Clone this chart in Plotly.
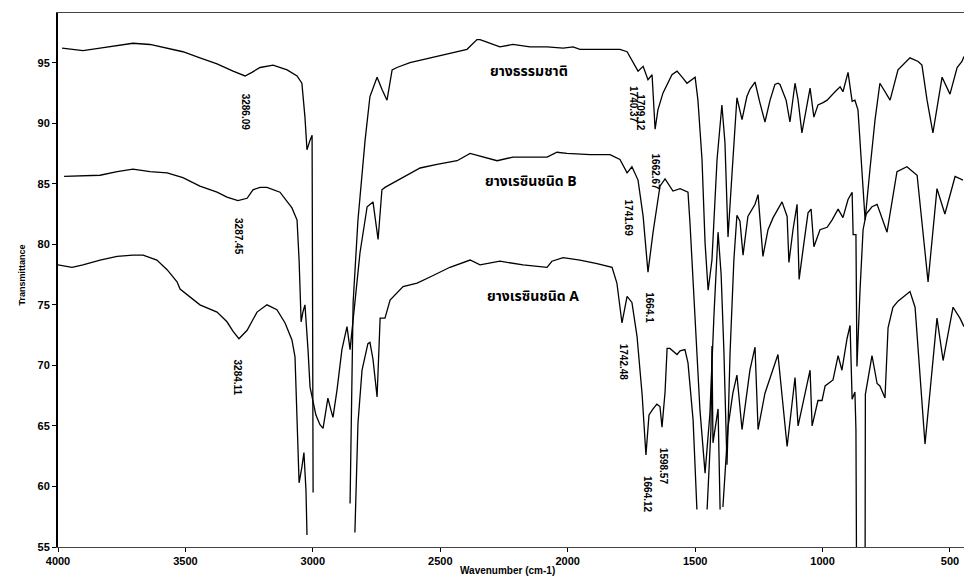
import plotly.graph_objects as go

N = None
# ---- Natural rubber (top) ----
nr_wn = [3984, 3902, 3835, 3768, 3706, 3639, 3572, 3510, 3443, 3376, 3313, 3266, 3239, 3207, 3156, 3101,
         3062, 3043, 3031, 3023, 3011, 3003, 2999, N, 2854, 2846, 2842, 2823, 2795, 2776, 2748, 2729,
         2709, 2689, 2670, 2619, 2579, 2513, 2395, 2356, 2344, 2317, 2266, 2215, 2148, 2081, 2018, 1979,
         1952, 1846, 1795, 1767, 1744, 1724, 1704, 1685, 1669, 1657, 1646, 1626, 1591, 1571, 1551, 1532,
         1500, 1489, 1473, 1461, 1449, 1434, 1414, 1395, 1383, 1371, 1356, 1336, 1316, 1297, 1285, 1265,
         1246, 1226, 1206, 1187, 1175, 1167, 1143, 1128, 1108, 1096, 1081, 1061, 1049, 1034, 1018, 998,
         982, 951, 931, 920, 900, 884, 873, 861, 845, 833, 814, 794, 775, 755, 735, 704, 657, 625, 610,
         590, 567, 531, 500, 472, 453, 445]
nr_t = [96.2, 96.0, 96.2, 96.4, 96.6, 96.5, 96.2, 95.9, 95.4, 94.9, 94.3, 93.9, 94.2, 94.6, 94.8, 94.4,
        93.9, 93.3, 90.5, 87.8, 88.6, 89.0, 59.5, N, 58.6, 68.8, 75.2, 82.0, 88.6, 92.2, 93.8, 92.8,
        91.9, 94.4, 94.6, 95.0, 95.2, 95.5, 96.1, 96.9, 96.9, 96.7, 96.3, 96.5, 96.3, 96.3, 96.2, 96.3,
        96.1, 96.1, 96.1, 95.9, 95.1, 94.3, 94.7, 93.6, 94.0, 89.5, 91.1, 92.5, 94.0, 94.3, 93.8, 93.3,
        93.8, 91.9, 87.0, 80.1, 76.2, 78.7, 87.0, 91.5, 88.4, 80.6, 85.6, 92.1, 90.3, 92.2, 92.8, 93.4,
        91.7, 90.1, 91.9, 93.2, 93.3, 93.2, 91.9, 90.1, 93.3, 91.9, 89.2, 91.5, 92.9, 90.5, 91.5, 91.7,
        91.9, 92.6, 93.0, 92.6, 94.2, 91.8, 91.9, 91.1, 86.2, 82.0, 86.2, 90.3, 93.3, 92.6, 91.9, 94.4,
        95.4, 95.1, 94.8, 91.9, 89.2, 93.8, 92.4, 94.6, 95.1, 95.5]

# ---- Resin rubber B (middle) ----
b_wn = [3976, 3835, 3768, 3706, 3639, 3572, 3510, 3443, 3376, 3337, 3294, 3258, 3235, 3207, 3180, 3129,
        3082, 3062, 3054, 3046, 3039, 3031, 3019, 3011, 2988, 2972, 2960, 2948, 2941, 2929, 2921, 2905,
        2886, 2866, 2854, 2835, 2815, 2787, 2764, 2744, 2729, 2717, 2646, 2579, 2513, 2434, 2383, 2344,
        2277, 2215, 2081, 2042, 2003, 1912, 1834, 1795, 1767, 1748, 1724, 1704, 1685, 1665, 1638, 1618,
        1587, 1559, 1528, 1520, 1500, 1481, 1461, 1442, 1426, 1410, 1398, 1387, 1375, 1363, 1348, 1336,
        1324, 1312, 1293, 1277, 1265, 1253, 1234, 1214, 1194, 1159, 1139, 1132, 1116, 1100, 1092, 1077,
        1057, 1045, 1034, 1010, 982, 963, 939, 920, 900, 884, 880, 869, 865, 853, 841, 829, 806, 786,
        747, 708, 669, 629, 606, 586, 551, 520, 480, 449]
b_t = [85.6, 85.7, 86.0, 86.2, 86.0, 85.9, 85.5, 84.8, 84.3, 83.9, 83.6, 83.8, 84.5, 84.7, 84.7, 84.3,
       83.0, 82.0, 78.7, 73.6, 74.4, 75.0, 71.3, 68.2, 65.9, 65.1, 64.8, 66.6, 67.3, 66.3, 65.7, 68.0,
       71.3, 73.2, 71.3, 75.2, 79.3, 83.1, 83.5, 80.4, 84.5, 84.7, 85.5, 86.3, 86.6, 86.9, 87.5, 87.3,
       86.9, 87.2, 87.2, 87.6, 87.5, 87.4, 87.4, 87.0, 85.9, 86.4, 85.3, 82.3, 77.7, 81.0, 84.8, 85.4,
       84.4, 84.6, 84.3, 81.7, 73.4, 66.3, 61.1, 66.0, 74.2, 81.0, 77.5, 71.1, 61.8, 71.0, 78.7, 82.4,
       81.9, 79.1, 82.3, 82.9, 83.3, 84.1, 79.0, 81.2, 82.2, 83.5, 82.3, 78.5, 81.2, 83.3, 77.1, 79.5,
       82.6, 82.9, 79.8, 81.2, 81.4, 82.0, 82.9, 82.2, 83.7, 84.3, 80.8, 80.8, 69.9, 76.2, 81.2, 82.5,
       83.1, 83.3, 81.0, 86.0, 86.4, 85.7, 81.0, 76.9, 84.6, 82.5, 85.6, 85.3]

# ---- Resin rubber A (bottom) ----
a_wn = [4000, 3945, 3902, 3835, 3768, 3706, 3666, 3612, 3572, 3533, 3521, 3443, 3376, 3337, 3313, 3290,
        3258, 3219, 3180, 3141, 3109, 3082, 3070, 3062, 3054, 3043, 3035, 3027, 3023, N, 2835, 2823,
        2807, 2784, 2776, 2764, 2748, 2736, 2717, 2697, 2646, 2591, 2540, 2462, 2383, 2344, 2266, 2175,
        2081, 2062, 2018, 1952, 1885, 1826, 1807, 1787, 1767, 1748, 1728, 1708, 1693, 1681, 1665, 1650,
        1638, 1630, 1618, 1610, 1599, 1571, 1559, 1540, 1528, 1508, 1493, N, 1453, 1438, 1434, 1430,
        1410, 1402, N, 1391, 1371, 1352, 1336, 1316, 1297, 1285, 1265, 1253, 1226, 1206, 1175, 1139,
        1108, 1096, 1069, 1049, 1041, 1018, 1002, 990, 959, 939, 924, 904, 892, 884, 873, 869, 867, N,
        833, 832, 806, 786, 775, 755, 743, 724, 704, 657, 637, 618, 598, 578, 551, 527, 488, 461, 445]
a_t = [78.3, 78.1, 78.3, 78.7, 79.0, 79.1, 79.1, 78.7, 77.9, 76.9, 76.3, 75.0, 74.4, 73.6, 72.8, 72.2,
       72.9, 74.4, 75.0, 74.6, 73.5, 72.1, 70.7, 65.2, 60.3, 61.6, 62.8, 59.7, 56.0, N, 56.2, 65.2,
       69.6, 71.8, 71.9, 70.5, 67.4, 73.9, 73.9, 75.4, 76.5, 76.8, 77.3, 78.1, 78.7, 78.3, 78.6, 78.3,
       78.1, 78.6, 78.9, 78.7, 78.4, 78.1, 76.8, 73.5, 75.7, 75.2, 72.4, 67.6, 62.6, 65.9, 66.4, 66.8,
       66.6, 64.9, 67.8, 71.4, 71.4, 70.9, 71.2, 71.3, 70.2, 65.5, 58.1, N, 58.1, 64.7, 71.6, 63.6,
       66.4, 58.1, N, 58.3, 64.9, 67.7, 69.2, 64.7, 67.7, 69.6, 71.5, 64.7, 67.7, 69.0, 70.9, 63.3,
       69.0, 65.0, 67.7, 69.6, 65.0, 67.1, 67.1, 68.3, 68.8, 70.8, 69.6, 72.2, 73.3, 67.2, 67.8, 64.7, 55.0, N,
       55.0, 67.6, 70.8, 68.5, 68.3, 67.3, 73.1, 74.8, 75.3, 76.1, 74.8, 69.3, 63.5, 67.9, 73.9, 70.4, 74.8, 73.9, 73.2]

# ---- peak labels ----
peak_text = ["3286.09", "3287.45", "3284.11", "1740.37", "1709.12", "1662.67", "1741.69",
             "1664.1", "1742.48", "1598.57", "1664.12"]
peak_wn = [3266, 3290, 3294, 1740, 1712, 1657, 1763, 1677, 1783, 1626, 1689]
peak_t = [90.95, 80.6, 69.0, 91.5, 90.9, 86.0, 82.2, 74.8, 70.3, 61.7, 59.3]

names = ["ยางธรรมชาติ", "ยางเรซินชนิด B", "ยางเรซินชนิด A"]
name_wn = [2150, 2144, 2136]
name_t = [94.3, 85.2, 75.7]

x_ticks = [4000, 3500, 3000, 2500, 2000, 1500, 1000, 500]
y_ticks = [55, 60, 65, 70, 75, 80, 85, 90, 95]

FONT = "Liberation Sans, Arial, sans-serif"
THAI = "Noto Sans Thai, Noto Sans Thai UI, Loma, Garuda, Norasi, Noto Sans, DejaVu Sans, sans-serif"

fig = go.Figure()
for xs, ys in [(nr_wn, nr_t), (b_wn, b_t), (a_wn, a_t)]:
    fig.add_trace(go.Scatter(x=xs, y=ys, mode="lines", connectgaps=False,
                             line=dict(color="black", width=1.3), showlegend=False,
                             hoverinfo="skip"))

for t, xv, yv in zip(peak_text, peak_wn, peak_t):
    fig.add_annotation(x=xv, y=yv, text=t, showarrow=False, textangle=90,
                       font=dict(family=FONT, size=10, color="black", weight="bold"))
for t, xv, yv in zip(names, name_wn, name_t):
    fig.add_annotation(x=xv, y=yv, text=t, showarrow=False,
                       font=dict(family=THAI, size=14, color="black", weight="bold"))

# axis titles
fig.add_annotation(xref="paper", yref="paper", x=0.496, y=-0.058, text="Wavenumber (cm-1)",
                   showarrow=False, font=dict(family=FONT, size=10, color="black", weight="bold"))
fig.add_annotation(xref="paper", yref="paper", x=-0.047, y=0.509, text="Transmittance",
                   textangle=-90, showarrow=False,
                   font=dict(family=FONT, size=9, color="black", weight="bold"))

fig.update_layout(
    width=964, height=585,
    margin=dict(l=58, r=0, t=13, b=38),
    paper_bgcolor="white", plot_bgcolor="white",
    font=dict(family=FONT, color="black"),
)
fig.update_xaxes(range=[4000, 445], tickvals=x_ticks, ticks="outside", ticklen=4,
                 tickcolor="black", showgrid=False, zeroline=False, automargin=False,
                 showline=True, linecolor="#444", linewidth=1, mirror=True,
                 tickfont=dict(family=FONT, size=11, weight="bold"))
fig.update_yaxes(range=[55, 99.1], tickvals=y_ticks, ticks="outside", ticklen=4,
                 tickcolor="black", showgrid=False, zeroline=False, automargin=False,
                 showline=True, linecolor="black", linewidth=2,
                 tickfont=dict(family=FONT, size=11, weight="bold"))

# remove the browser's default page margin so the figure fills the window exactly
fig.write_html("out.html", config={"displayModeBar": False},
               post_script="document.body.style.margin='0';document.body.style.overflow='hidden';")
